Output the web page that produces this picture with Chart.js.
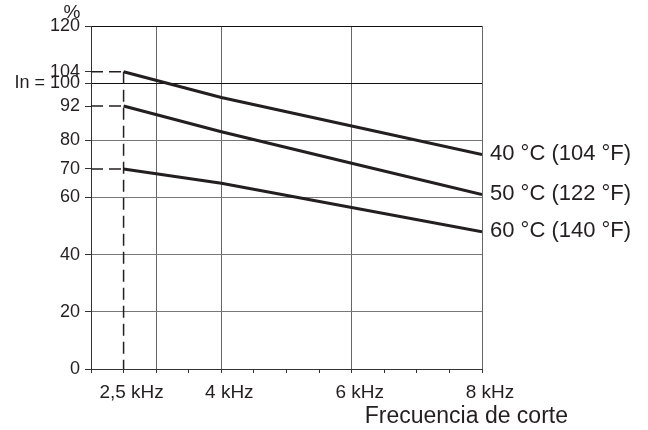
<!DOCTYPE html>
<html>
<head>
<meta charset="utf-8">
<script src="https://cdn.jsdelivr.net/npm/chart.js@4/dist/chart.umd.min.js"></script>
<style>
  body { margin: 0; background: #fff; }
  canvas { display: block; }
</style>
</head>
<body>
<canvas id="derating" width="648" height="430"></canvas>
<script>
// datos
const frecuencias = [2.5, 4, 6, 8];
const serie40 = [104, 95, 85, 75];
const serie50 = [92, 83, 72, 61];
const serie60 = [70, 65, 56.5, 48];
const etiquetas = ['40 °C (104 °F)', '50 °C (122 °F)', '60 °C (140 °F)'];

const ticksX = [2, 2.5, 3, 3.5, 4, 4.5, 5, 5.5, 6, 6.5, 7, 7.5, 8];
const etiquetasX = { 2.5: '2,5 kHz', 4: '4 kHz', 6: '6 kHz', 8: '8 kHz' };
const gridX = [3, 4, 6, 8];
const ticksY = [0, 20, 40, 60, 70, 80, 92, 100, 104, 120];
const gridY = [20, 40, 60, 80];
const gridYOscuro = [100, 120];

const tinta = '#231f20';
const fuente = 'Arial, "Liberation Sans", sans-serif';

function puntos(ys) {
    return frecuencias.map((f, i) => ({ x: f, y: ys[i] }));
}

function guia(valor) {
    return {
        data: [{ x: 2, y: valor }, { x: frecuencias[0], y: valor }],
        borderColor: tinta,
        borderWidth: 1.5,
        borderDash: [12, 6],
        pointRadius: 0
    };
}

const series = [serie40, serie50, serie60];

const datasets = series.map(s => ({
    data: puntos(s),
    borderColor: tinta,
    borderWidth: 3,
    pointRadius: 0,
    tension: 0
}));
series.forEach(s => datasets.push(guia(s[0])));
// linea vertical discontinua en 2,5 kHz
datasets.push({
    data: [{ x: frecuencias[0], y: serie40[0] }, { x: frecuencias[0], y: 0 }],
    borderColor: tinta,
    borderWidth: 1.5,
    borderDash: [12, 6],
    pointRadius: 0,
    clip: false
});

// textos: etiquetas de curvas, % y titulo del eje x
const textos = {
    id: 'textos',
    afterDraw(chart) {
        const ctx = chart.ctx;
        const x = chart.scales.x;
        const y = chart.scales.y;
        ctx.save();
        ctx.fillStyle = tinta;
        ctx.font = '22px ' + fuente;
        ctx.textAlign = 'left';
        ctx.textBaseline = 'middle';
        series.forEach((s, i) => {
            const ult = s.length - 1;
            ctx.fillText(etiquetas[i], x.getPixelForValue(frecuencias[ult]) + 8, y.getPixelForValue(s[ult]) - 1);
        });
        ctx.font = '19px ' + fuente;
        ctx.textAlign = 'center';
        ctx.fillText('%', chart.chartArea.left - 19, y.getPixelForValue(120) - 13);
        ctx.font = '23px ' + fuente;
        ctx.textAlign = 'right';
        ctx.textBaseline = 'alphabetic';
        ctx.fillText('Frecuencia de corte', 568, 423);
        ctx.restore();
    }
};

new Chart(document.getElementById('derating').getContext('2d'), {
    type: 'line',
    data: { datasets: datasets },
    options: {
        responsive: false,
        animation: false,
        layout: { padding: { left: 0, right: 166, top: 26, bottom: 0 } },
        plugins: {
            legend: { display: false },
            tooltip: { enabled: false }
        },
        scales: {
            x: {
                type: 'linear',
                min: 2,
                max: 8,
                afterBuildTicks: scale => { scale.ticks = ticksX.map(v => ({ value: v })); },
                afterFit: scale => { scale.height = 61; },
                border: { display: true, color: '#333', width: 1 },
                grid: {
                    color: c => gridX.includes(c.tick.value) ? '#666' : 'rgba(0,0,0,0)',
                    tickColor: '#333',
                    tickLength: 4,
                    lineWidth: 1
                },
                ticks: {
                    autoSkip: false,
                    maxRotation: 0,
                    padding: 8,
                    labelOffset: 8,
                    color: tinta,
                    font: { family: fuente, size: 19 },
                    callback: v => etiquetasX[v] || ''
                }
            },
            y: {
                type: 'linear',
                min: 0,
                max: 120,
                afterBuildTicks: scale => { scale.ticks = ticksY.map(v => ({ value: v })); },
                afterFit: scale => { scale.width = 91; },
                border: { display: true, color: '#333', width: 1 },
                grid: {
                    color: c => gridYOscuro.includes(c.tick.value) ? '#111' : (gridY.includes(c.tick.value) ? '#777' : 'rgba(0,0,0,0)'),
                    tickColor: '#333',
                    tickLength: 6,
                    lineWidth: 1
                },
                ticks: {
                    autoSkip: false,
                    padding: 5,
                    color: tinta,
                    font: { family: fuente, size: 18 },
                    callback: v => v === 100 ? 'In = 100' : v
                }
            }
        }
    },
    plugins: [textos]
});
</script>
</body>
</html>
